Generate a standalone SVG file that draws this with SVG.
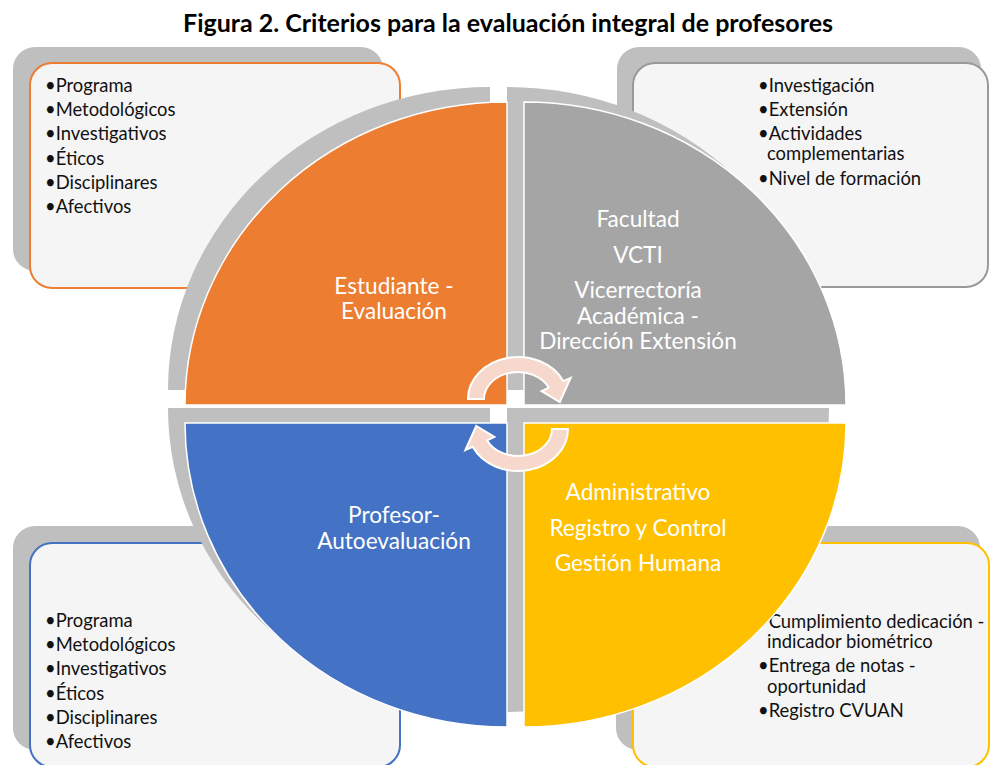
<svg xmlns="http://www.w3.org/2000/svg" width="991" height="765" viewBox="0 0 991 765">
<defs>
<style>
.title{font-family:Lato,"Liberation Sans",sans-serif;font-weight:bold;font-size:25px;fill:#000;text-anchor:middle}
.shadow{fill:#bfbfbf}
.box{fill:#f5f5f5;stroke-width:2}
.bt{font-family:Lato,"Liberation Sans",sans-serif;font-size:18.4px;fill:#111}
.q{stroke:#fff;stroke-width:1.5}
.ql{font-family:Lato,"Liberation Sans",sans-serif;font-size:22.6px;fill:#fff;text-anchor:middle}
.arr{fill:#f7d8cc;stroke:#fff;stroke-width:2}
</style>
</defs>
<rect width="991" height="765" fill="#fff"/>
<text class="title" x="508" y="32">Figura 2. Criterios para la evaluación integral de profesores</text>

<g id="box-tl">
<rect class="shadow" x="13" y="47" width="370" height="224" rx="22"/>
<rect class="box" x="30" y="63" width="370" height="225" rx="22" stroke="#ed7d31"/>
<text class="bt"><tspan x="45" y="92">•Programa</tspan><tspan x="45" y="116">•Metodológicos</tspan><tspan x="45" y="140">•Investigativos</tspan><tspan x="45" y="165">•Éticos</tspan><tspan x="45" y="189">•Disciplinares</tspan><tspan x="45" y="213">•Afectivos</tspan></text>
</g>
<g id="box-tr">
<rect class="shadow" x="617" y="47" width="364" height="224" rx="22"/>
<rect class="box" x="633" y="63" width="355" height="224" rx="22" stroke="#999"/>
<text class="bt"><tspan x="758" y="92">•Investigación</tspan><tspan x="758" y="116">•Extensión</tspan><tspan x="758" y="140">•Actividades</tspan><tspan x="767" y="160">complementarias</tspan><tspan x="758" y="185">•Nivel de formación</tspan></text>
</g>
<g id="box-bl">
<rect class="shadow" x="13" y="526" width="370" height="224" rx="22"/>
<rect class="box" x="30" y="543" width="370" height="224" rx="22" stroke="#4472c4"/>
<text class="bt"><tspan x="45" y="627">•Programa</tspan><tspan x="45" y="651">•Metodológicos</tspan><tspan x="45" y="675">•Investigativos</tspan><tspan x="45" y="700">•Éticos</tspan><tspan x="45" y="724">•Disciplinares</tspan><tspan x="45" y="748">•Afectivos</tspan></text>
</g>
<g id="box-br">
<rect class="shadow" x="616" y="526" width="364" height="224" rx="22"/>
<rect class="box" x="633" y="543" width="356" height="224" rx="22" stroke="#ffc000"/>
<text class="bt"><tspan x="758" y="628">•Cumplimiento dedicación -</tspan><tspan x="767" y="648">indicador biométrico</tspan><tspan x="758" y="672">•Entrega de notas -</tspan><tspan x="767" y="693">oportunidad</tspan><tspan x="758" y="717">•Registro CVUAN</tspan></text>
</g>

<g id="quadrant-shadows" transform="translate(-17,-15)">
<path class="shadow" d="M507,405 L185,405 A322 303 0 0 1 507,102 Z"/>
<path class="shadow" d="M524,405 L524,102 A322 303 0 0 1 846,405 Z"/>
<path class="shadow" d="M507,423 L507,727 A322 304 0 0 1 185,423 Z"/>
<path class="shadow" d="M524,423 L846,423 A322 304 0 0 1 524,727 Z"/>
</g>

<g id="q-estudiante">
<path class="q" fill="#ed7d31" d="M507,405 L185,405 A322 303 0 0 1 507,102 Z"/>
<text class="ql"><tspan x="394" y="294">Estudiante -</tspan><tspan x="394" y="319">Evaluación</tspan></text>
</g>
<g id="q-facultad">
<path class="q" fill="#a5a5a5" d="M524,405 L524,102 A322 303 0 0 1 846,405 Z"/>
<text class="ql"><tspan x="638" y="227">Facultad</tspan><tspan x="638" y="263">VCTI</tspan><tspan x="638" y="298">Vicerrectoría</tspan><tspan x="638" y="324">Académica -</tspan><tspan x="638" y="349">Dirección Extensión</tspan></text>
</g>
<g id="q-profesor">
<path class="q" fill="#4472c4" d="M507,423 L507,727 A322 304 0 0 1 185,423 Z"/>
<text class="ql"><tspan x="394" y="523">Profesor-</tspan><tspan x="394" y="549">Autoevaluación</tspan></text>
</g>
<g id="q-administrativo">
<path class="q" fill="#ffc000" d="M524,423 L846,423 A322 304 0 0 1 524,727 Z"/>
<text class="ql"><tspan x="638" y="500">Administrativo</tspan><tspan x="638" y="536">Registro y Control</tspan><tspan x="638" y="571">Gestión Humana</tspan></text>
</g>

<g id="connectors">
<path class="arr" d="M468,399 A50 42 0 0 1 563.3,381.2 L570.6,377.9 L559.8,402 L541.6,391 L548.8,387.6 A34 27 0 0 0 484,399 Z"/>
<path class="arr" transform="rotate(180 518 414)" d="M468,399 A50 42 0 0 1 563.3,381.2 L570.6,377.9 L559.8,402 L541.6,391 L548.8,387.6 A34 27 0 0 0 484,399 Z"/>
</g>
</svg>
